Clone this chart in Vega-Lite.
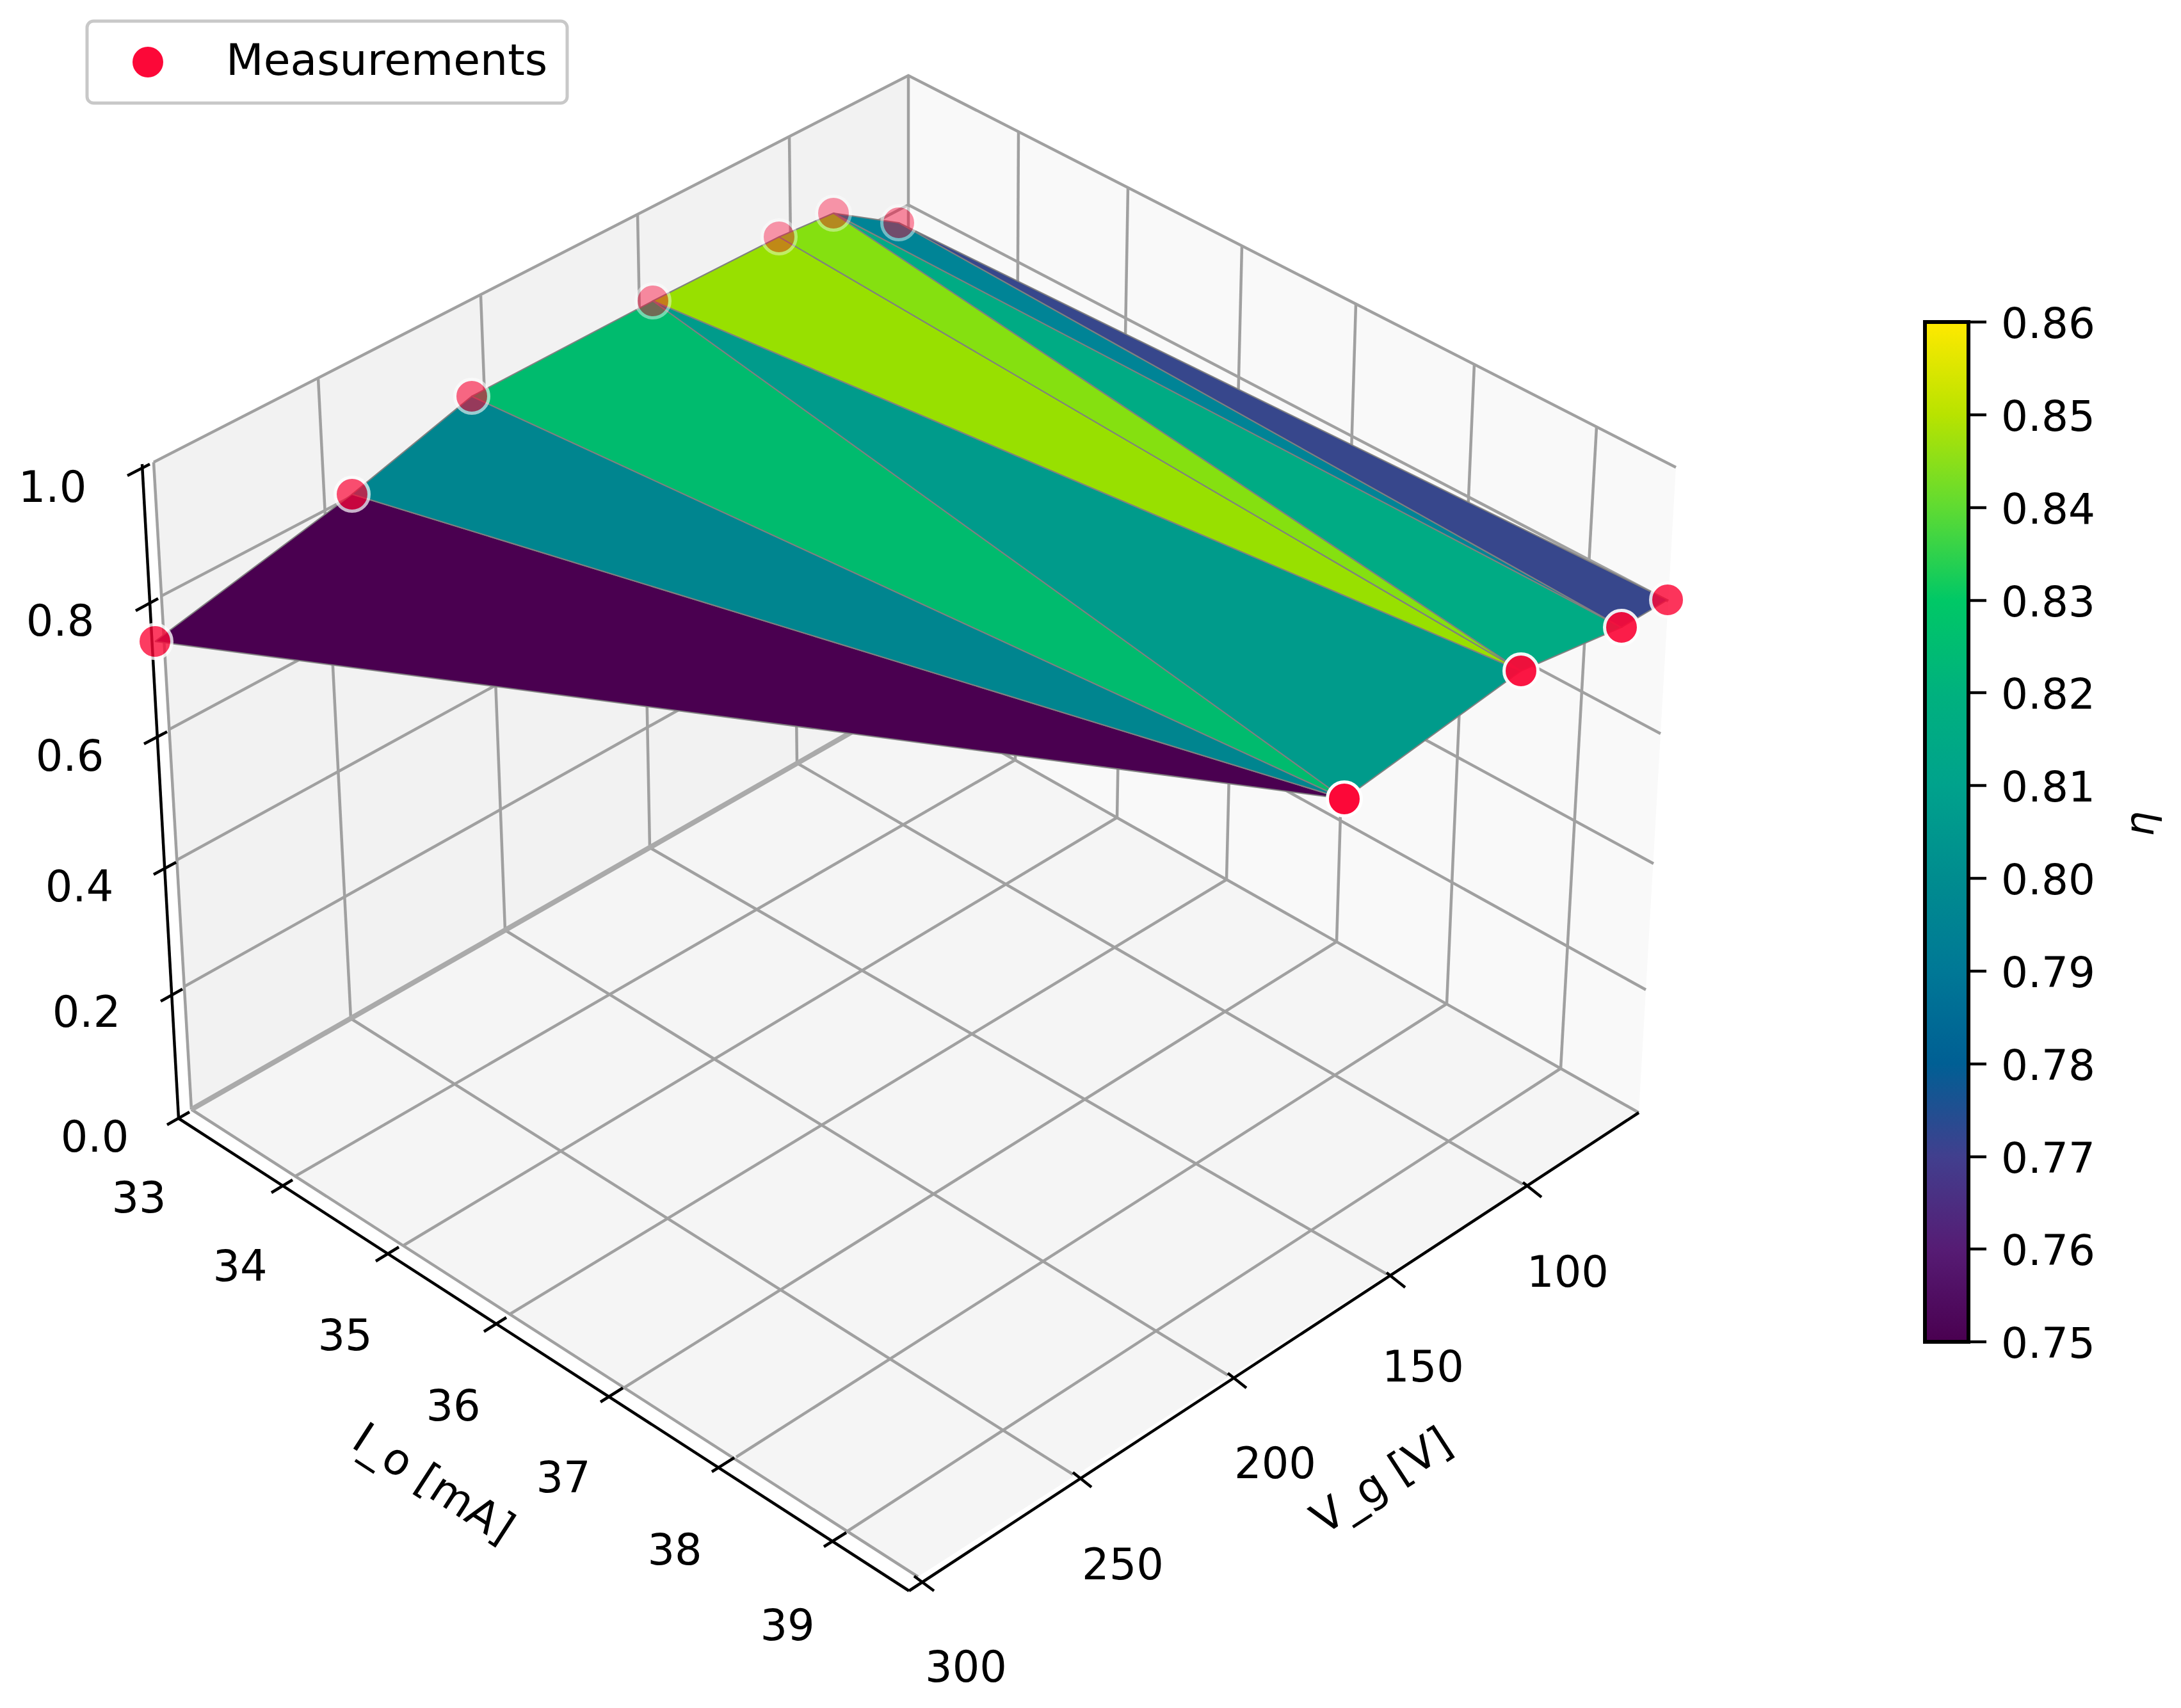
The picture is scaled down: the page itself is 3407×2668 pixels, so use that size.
{"$schema":"https://vega.github.io/schema/vega-lite/v6.json","width":3407,"height":2668,"autosize":{"type":"fit","contains":"padding"},"padding":0,"background":"white","config":{"view":{"stroke":null},"legend":{"strokeWidth":5}},
"datasets":{
"panes":[
{"pane":"left","i":0,"u":240,"v":722},{"pane":"left","i":1,"u":1419,"v":118},{"pane":"left","i":2,"u":1419,"v":1093},{"pane":"left","i":3,"u":299,"v":1733},
{"pane":"right","i":0,"u":1419,"v":118},{"pane":"right","i":1,"u":2618,"v":730},{"pane":"right","i":2,"u":2560,"v":1738},{"pane":"right","i":3,"u":1419,"v":1093},
{"pane":"floor","i":0,"u":299,"v":1733},{"pane":"floor","i":1,"u":1434,"v":2463},{"pane":"floor","i":2,"u":2560,"v":1738},{"pane":"floor","i":3,"u":1419,"v":1093}],
"grid":[
{"g":"z1","i":0,"u":240,"v":722},{"g":"z1","i":1,"u":1419,"v":118},{"g":"z1","i":2,"u":2618,"v":730},
{"g":"z.8","i":0,"u":252,"v":931},{"g":"z.8","i":1,"u":1419,"v":320},{"g":"z.8","i":2,"u":2606,"v":939},
{"g":"z.6","i":0,"u":265,"v":1139},{"g":"z.6","i":1,"u":1419,"v":520},{"g":"z.6","i":2,"u":2594,"v":1146},
{"g":"z.4","i":0,"u":277,"v":1343},{"g":"z.4","i":1,"u":1419,"v":717},{"g":"z.4","i":2,"u":2583,"v":1349},
{"g":"z.2","i":0,"u":288,"v":1541},{"g":"z.2","i":1,"u":1419,"v":908},{"g":"z.2","i":2,"u":2571,"v":1546},
{"g":"z0r","i":0,"u":1419,"v":1093},{"g":"z0r","i":1,"u":2560,"v":1738},
{"g":"v300w","i":0,"u":240,"v":722},{"g":"v300w","i":1,"u":299,"v":1733},
{"g":"v250w","i":0,"u":497,"v":590},{"g":"v250w","i":1,"u":548,"v":1591},
{"g":"v200w","i":0,"u":751,"v":462},{"g":"v200w","i":1,"u":789,"v":1453},
{"g":"v150w","i":0,"u":996,"v":335},{"g":"v150w","i":1,"u":1015,"v":1324},
{"g":"v100w","i":0,"u":1233,"v":213},{"g":"v100w","i":1,"u":1245,"v":1192},
{"g":"back","i":0,"u":1419,"v":118},{"g":"back","i":1,"u":1419,"v":1093},
{"g":"i33w","i":0,"u":1591,"v":206},{"g":"i33w","i":1,"u":1586,"v":1187},
{"g":"i34w","i":0,"u":1762,"v":293},{"g":"i34w","i":1,"u":1745,"v":1277},
{"g":"i35w","i":0,"u":1940,"v":384},{"g":"i35w","i":1,"u":1916,"v":1374},
{"g":"i36w","i":0,"u":2118,"v":475},{"g":"i36w","i":1,"u":2088,"v":1471},
{"g":"i37w","i":0,"u":2303,"v":569},{"g":"i37w","i":1,"u":2260,"v":1568},
{"g":"i38w","i":0,"u":2494,"v":667},{"g":"i38w","i":1,"u":2438,"v":1669},
{"g":"v300f","i":0,"u":1434,"v":2463},{"g":"v300f","i":1,"u":299,"v":1733},
{"g":"v250f","i":0,"u":1676,"v":2303},{"g":"v250f","i":1,"u":548,"v":1591},
{"g":"v200f","i":0,"u":1918,"v":2148},{"g":"v200f","i":1,"u":789,"v":1453},
{"g":"v150f","i":0,"u":2166,"v":1990},{"g":"v150f","i":1,"u":1015,"v":1324},
{"g":"v100f","i":0,"u":2379,"v":1850},{"g":"v100f","i":1,"u":1245,"v":1192},
{"g":"i33f","i":0,"u":460,"v":1838},{"g":"i33f","i":1,"u":1586,"v":1187},
{"g":"i34f","i":0,"u":631,"v":1945},{"g":"i34f","i":1,"u":1745,"v":1277},
{"g":"i35f","i":0,"u":796,"v":2053},{"g":"i35f","i":1,"u":1916,"v":1374},
{"g":"i36f","i":0,"u":976,"v":2167},{"g":"i36f","i":1,"u":2088,"v":1471},
{"g":"i37f","i":0,"u":1150,"v":2276},{"g":"i37f","i":1,"u":2260,"v":1568},
{"g":"i38f","i":0,"u":1322,"v":2393},{"g":"i38f","i":1,"u":2438,"v":1669}],
"axes":[
{"g":"zaxis","i":0,"u":222,"v":725},{"g":"zaxis","i":1,"u":279,"v":1747},
{"g":"ioaxis","i":0,"u":279,"v":1747},{"g":"ioaxis","i":1,"u":1420,"v":2485},
{"g":"vgaxis","i":0,"u":1420,"v":2485},{"g":"vgaxis","i":1,"u":2560,"v":1738},
{"g":"zt1","i":0,"u":199,"v":743},{"g":"zt1","i":1,"u":234,"v":725},
{"g":"zt.8","i":0,"u":212,"v":954},{"g":"zt.8","i":1,"u":247,"v":935},
{"g":"zt.6","i":0,"u":225,"v":1162},{"g":"zt.6","i":1,"u":261,"v":1143},
{"g":"zt.4","i":0,"u":240,"v":1366},{"g":"zt.4","i":1,"u":275,"v":1347},
{"g":"zt.2","i":0,"u":251,"v":1564},{"g":"zt.2","i":1,"u":285,"v":1545},
{"g":"zt0","i":0,"u":261,"v":1757},{"g":"zt0","i":1,"u":296,"v":1737},
{"g":"it33","i":0,"u":424,"v":1863},{"g":"it33","i":1,"u":457,"v":1843},
{"g":"it34","i":0,"u":587,"v":1970},{"g":"it34","i":1,"u":623,"v":1948},
{"g":"it35","i":0,"u":756,"v":2080},{"g":"it35","i":1,"u":791,"v":2058},
{"g":"it36","i":0,"u":938,"v":2190},{"g":"it36","i":1,"u":973,"v":2168},
{"g":"it37","i":0,"u":1112,"v":2299},{"g":"it37","i":1,"u":1147,"v":2277},
{"g":"it38","i":0,"u":1287,"v":2416},{"g":"it38","i":1,"u":1322,"v":2394},
{"g":"vt300","i":0,"u":1428,"v":2462},{"g":"vt300","i":1,"u":1459,"v":2485},
{"g":"vt250","i":0,"u":1676,"v":2300},{"g":"vt250","i":1,"u":1705,"v":2323},
{"g":"vt200","i":0,"u":1918,"v":2145},{"g":"vt200","i":1,"u":1947,"v":2168},
{"g":"vt150","i":0,"u":2166,"v":1988},{"g":"vt150","i":1,"u":2195,"v":2011},
{"g":"vt100","i":0,"u":2379,"v":1847},{"g":"vt100","i":1,"u":2408,"v":1870},
{"g":"c.86","i":0,"u":3078,"v":503},{"g":"c.86","i":1,"u":3103,"v":503},
{"g":"c.85","i":0,"u":3078,"v":648},{"g":"c.85","i":1,"u":3103,"v":648},
{"g":"c.84","i":0,"u":3078,"v":793},{"g":"c.84","i":1,"u":3103,"v":793},
{"g":"c.83","i":0,"u":3078,"v":938},{"g":"c.83","i":1,"u":3103,"v":938},
{"g":"c.82","i":0,"u":3078,"v":1082},{"g":"c.82","i":1,"u":3103,"v":1082},
{"g":"c.81","i":0,"u":3078,"v":1227},{"g":"c.81","i":1,"u":3103,"v":1227},
{"g":"c.80","i":0,"u":3078,"v":1372},{"g":"c.80","i":1,"u":3103,"v":1372},
{"g":"c.79","i":0,"u":3078,"v":1517},{"g":"c.79","i":1,"u":3103,"v":1517},
{"g":"c.78","i":0,"u":3078,"v":1662},{"g":"c.78","i":1,"u":3103,"v":1662},
{"g":"c.77","i":0,"u":3078,"v":1807},{"g":"c.77","i":1,"u":3103,"v":1807},
{"g":"c.76","i":0,"u":3078,"v":1951},{"g":"c.76","i":1,"u":3103,"v":1951},
{"g":"c.75","i":0,"u":3078,"v":2096},{"g":"c.75","i":1,"u":3103,"v":2096}],
"surface":[
{"t":"a","i":0,"u":242,"v":1002,"eta":0.75},{"t":"a","i":1,"u":550,"v":772,"eta":0.75},{"t":"a","i":2,"u":2100,"v":1248,"eta":0.75},{"t":"a","i":3,"u":242,"v":1002,"eta":0.75},
{"t":"b","i":0,"u":550,"v":772,"eta":0.797},{"t":"b","i":1,"u":737,"v":619,"eta":0.797},{"t":"b","i":2,"u":2100,"v":1248,"eta":0.797},{"t":"b","i":3,"u":550,"v":772,"eta":0.797},
{"t":"c","i":0,"u":737,"v":619,"eta":0.825},{"t":"c","i":1,"u":1020,"v":470,"eta":0.825},{"t":"c","i":2,"u":2100,"v":1248,"eta":0.825},{"t":"c","i":3,"u":737,"v":619,"eta":0.825},
{"t":"d","i":0,"u":1020,"v":470,"eta":0.806},{"t":"d","i":1,"u":2376,"v":1048,"eta":0.806},{"t":"d","i":2,"u":2100,"v":1248,"eta":0.806},{"t":"d","i":3,"u":1020,"v":470,"eta":0.806},
{"t":"e","i":0,"u":1020,"v":470,"eta":0.847},{"t":"e","i":1,"u":1217,"v":370,"eta":0.847},{"t":"e","i":2,"u":2376,"v":1048,"eta":0.847},{"t":"e","i":3,"u":1020,"v":470,"eta":0.847},
{"t":"f","i":0,"u":1217,"v":370,"eta":0.844},{"t":"f","i":1,"u":1302,"v":333,"eta":0.844},{"t":"f","i":2,"u":2376,"v":1048,"eta":0.844},{"t":"f","i":3,"u":1217,"v":370,"eta":0.844},
{"t":"g","i":0,"u":1302,"v":333,"eta":0.816},{"t":"g","i":1,"u":2533,"v":980,"eta":0.816},{"t":"g","i":2,"u":2376,"v":1048,"eta":0.816},{"t":"g","i":3,"u":1302,"v":333,"eta":0.816},
{"t":"h","i":0,"u":1302,"v":333,"eta":0.796},{"t":"h","i":1,"u":1404,"v":348,"eta":0.796},{"t":"h","i":2,"u":2533,"v":980,"eta":0.796},{"t":"h","i":3,"u":1302,"v":333,"eta":0.796},
{"t":"i","i":0,"u":1404,"v":348,"eta":0.772},{"t":"i","i":1,"u":2605,"v":937,"eta":0.772},{"t":"i","i":2,"u":2533,"v":980,"eta":0.772},{"t":"i","i":3,"u":1404,"v":348,"eta":0.772}],
"points":[
{"series":"Measurements","u":1302,"v":333,"near":0},{"series":"Measurements","u":1217,"v":370,"near":0},{"series":"Measurements","u":1404,"v":348,"near":0.08},{"series":"Measurements","u":1020,"v":470,"near":0.08},{"series":"Measurements","u":737,"v":619,"near":0.33},{"series":"Measurements","u":550,"v":772,"near":0.5},{"series":"Measurements","u":242,"v":1002,"near":0.65},{"series":"Measurements","u":2605,"v":937,"near":0.7},{"series":"Measurements","u":2533,"v":980,"near":0.85},{"series":"Measurements","u":2376,"v":1048,"near":0.9},{"series":"Measurements","u":2100,"v":1248,"near":1}],
"ticklabels":[
{"text":"1.0","u":82,"v":760},{"text":"0.8","u":94,"v":969},{"text":"0.6","u":109,"v":1180},{"text":"0.4","u":124,"v":1384},{"text":"0.2","u":135,"v":1580},{"text":"0.0","u":148,"v":1775},
{"text":"33","u":217,"v":1870},{"text":"34","u":375,"v":1977},{"text":"35","u":539,"v":2085},{"text":"36","u":708,"v":2195},{"text":"37","u":880,"v":2307},{"text":"38","u":1054,"v":2420},{"text":"39","u":1230,"v":2538},
{"text":"100","u":2449,"v":1986},{"text":"150","u":2223,"v":2134},{"text":"200","u":1992,"v":2285},{"text":"250","u":1754,"v":2443},{"text":"300","u":1509,"v":2603}],
"cbarlabels":[
{"text":"0.86","u":3126,"v":503},{"text":"0.85","u":3126,"v":648},{"text":"0.84","u":3126,"v":793},{"text":"0.83","u":3126,"v":938},{"text":"0.82","u":3126,"v":1082},{"text":"0.81","u":3126,"v":1227},{"text":"0.80","u":3126,"v":1372},{"text":"0.79","u":3126,"v":1517},{"text":"0.78","u":3126,"v":1662},{"text":"0.77","u":3126,"v":1807},{"text":"0.76","u":3126,"v":1951},{"text":"0.75","u":3126,"v":2096}]
},
"encoding":{"x":{"field":"u","type":"quantitative","axis":null,"scale":{"domain":[0,3407],"nice":false,"zero":false}},"y":{"field":"v","type":"quantitative","axis":null,"scale":{"domain":[0,2668],"reverse":true,"nice":false,"zero":false}}},
"layer":[
{"data":{"name":"panes"},"mark":{"type":"line","strokeWidth":0},"encoding":{"order":{"field":"i","type":"quantitative"},"detail":{"field":"pane"},"fill":{"field":"pane","type":"nominal","legend":null,"scale":{"domain":["left","right","floor"],"range":["#f2f2f2","#f9f9f9","#f5f5f5"]}}}},
{"data":{"name":"grid"},"mark":{"type":"line","stroke":"#a0a0a0","strokeWidth":4.5},"encoding":{"order":{"field":"i","type":"quantitative"},"detail":{"field":"g"}}},
{"data":{"values":[{"u":299,"v":1733,"i":0},{"u":1419,"v":1093,"i":1}]},"mark":{"type":"line","stroke":"#aaaaaa","strokeWidth":8},"encoding":{"order":{"field":"i","type":"quantitative"}}},
{"data":{"name":"axes"},"mark":{"type":"line","stroke":"#000000","strokeWidth":4.5},"encoding":{"order":{"field":"i","type":"quantitative"},"detail":{"field":"g"}}},
{"data":{"name":"surface"},"mark":{"type":"line","stroke":"#808080","strokeWidth":2},"encoding":{"order":{"field":"i","type":"quantitative"},"detail":{"field":"t"},"fill":{"field":"eta","type":"quantitative","scale":{"domain":[0.75,0.76,0.77,0.772,0.78,0.79,0.796,0.797,0.806,0.81,0.816,0.82,0.825,0.83,0.835,0.84,0.844,0.847,0.85,0.855,0.86],"range":["#4a0050","#561c74","#413f8e","#37478c","#005f94","#007896","#008496","#00858f","#009b8b","#00a28c","#00ab84","#00b17e","#00bb6e","#00c866","#00d64c","#5fdb32","#85e010","#98e000","#b8e300","#dde600","#ffe900"]},"legend":{"orient":"none","legendX":3007,"legendY":503,"padding":0,"title":null,"type":"gradient","gradientLength":1593,"gradientThickness":68,"gradientStrokeColor":"#000000","gradientStrokeWidth":6,"values":[],"labelOpacity":0,"strokeColor":null}}}},
{"data":{"name":"points"},"mark":{"type":"point","filled":true,"size":2809,"stroke":"#ffffff","strokeWidth":5},"encoding":{"color":{"field":"series","type":"nominal","scale":{"domain":["Measurements"],"range":["#fc0838"]},"legend":{"orient":"none","legendX":136,"legendY":33,"title":null,"padding":30,"symbolSize":2304,"symbolType":"circle","symbolOpacity":1,"symbolStrokeWidth":0,"symbolOffset":31,"labelFont":"DejaVu Sans","labelFontSize":68,"labelColor":"#000000","labelOffset":88,"labelLimit":800,"cornerRadius":10,"fillColor":"#ffffff","strokeColor":"#c8c8c8"}},"opacity":{"field":"near","type":"quantitative","legend":null,"scale":{"domain":[0,1],"range":[0.4,1]}}}},
{"data":{"name":"ticklabels"},"mark":{"type":"text","font":"DejaVu Sans","fontSize":67,"fill":"#000000","align":"center","baseline":"middle","dy":4},"encoding":{"text":{"field":"text"}}},
{"data":{"name":"cbarlabels"},"mark":{"type":"text","font":"DejaVu Sans","fontSize":66,"fill":"#000000","align":"left","baseline":"middle","dy":5},"encoding":{"text":{"field":"text"}}},
{"data":{"values":[{"text":"I_o [mA]","u":678,"v":2316}]},"mark":{"type":"text","font":"DejaVu Sans","fontSize":68,"fill":"#000000","align":"center","baseline":"middle","angle":33,"dy":4},"encoding":{"text":{"field":"text"}}},
{"data":{"values":[{"text":"V_g [V]","u":2157,"v":2312}]},"mark":{"type":"text","font":"DejaVu Sans","fontSize":68,"fill":"#000000","align":"center","baseline":"middle","angle":327,"dy":4},"encoding":{"text":{"field":"text"}}},
{"data":{"values":[{"text":"η","u":3345,"v":1287}]},"mark":{"type":"text","font":"DejaVu Sans","fontStyle":"italic","fontSize":62,"fill":"#000000","align":"center","baseline":"middle","angle":270},"encoding":{"text":{"field":"text"}}}
]}
